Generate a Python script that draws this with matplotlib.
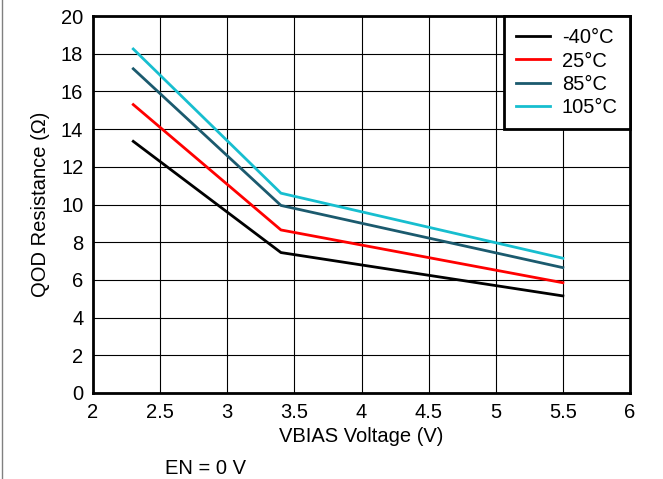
import matplotlib
matplotlib.use("Agg")
import matplotlib.pyplot as plt
from matplotlib.lines import Line2D

plt.rcParams['font.family'] = ['Liberation Sans', 'DejaVu Sans']
plt.rcParams['font.size'] = 14.5

# VBIAS voltage points and QOD resistance per temperature
vbias = [2.3, 3.4, 5.5]
temps = ['-40°C', '25°C', '85°C', '105°C']
r_m40 = [13.35, 7.45, 5.15]
r_25 = [15.3, 8.65, 5.85]
r_85 = [17.2, 9.95, 6.65]
r_105 = [18.25, 10.6, 7.15]
colors = ['black', 'red', '#1b5a6e', '#17becf']

fig = plt.figure(figsize=(6.63, 4.79), dpi=100)
ax = fig.add_axes([93/663, 1-393/479, (630-93)/663, (393-16)/479])

for name, vals, c in zip(temps, [r_m40, r_25, r_85, r_105], colors):
    ax.plot(vbias, vals, color=c, lw=2, label=name)

ax.set_xlim(2, 6)
ax.set_ylim(0, 20)
ax.set_xticks([2, 2.5, 3, 3.5, 4, 4.5, 5, 5.5, 6])
ax.set_xticklabels(['2', '2.5', '3', '3.5', '4', '4.5', '5', '5.5', '6'])
ax.set_yticks(range(0, 21, 2))
ax.grid(True, color='black', lw=0.8)
ax.tick_params(length=0, pad=7)
for s in ax.spines.values():
    s.set_linewidth(2)

ax.set_xlabel('VBIAS Voltage (V)', labelpad=4)
ax.set_ylabel('QOD Resistance (Ω)', labelpad=8)

leg = ax.legend(loc='upper right', bbox_to_anchor=(1, 1), borderaxespad=0,
                fancybox=False, framealpha=1, edgecolor='black',
                handlelength=1.7, labelspacing=0.22, borderpad=0.6, handletextpad=0.6)
leg.get_frame().set_linewidth(2)

fig.text(165/663, 1-468/479, 'EN = 0 V', va='center', ha='left')
fig.add_artist(Line2D([2/663, 2/663], [0, 1], color='gray', lw=1))

fig.savefig('out.png', dpi=100)
